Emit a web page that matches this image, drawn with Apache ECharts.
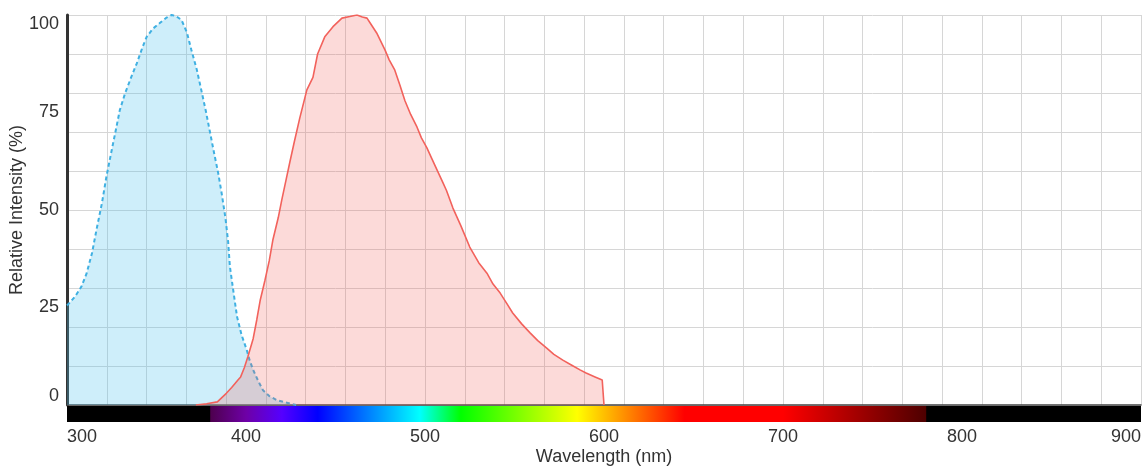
<!DOCTYPE html>
<html>
<head>
<meta charset="utf-8">
<script src="https://cdn.jsdelivr.net/npm/echarts@6/dist/echarts.min.js"></script>
<style>
html,body{margin:0;padding:0;background:#fff;}
#chart{width:1142px;height:466px;}
</style>
</head>
<body>
<div id="chart"></div>
<script>
// Excitation spectrum (blue, dashed)
const exWavelength = [300,302,304.5,308,311,314,316.5,319.5,322,325,327.5,329.5,332.5,336,339,342,344.5,348,352,355.5,358.5,361,364,367,369.5,372.5,375,377.5,380,382,384.5,386.5,388.5,390,391,393,395,397.5,400.5,402,404,407,409.5,413,417,421,424.5,428];
const exIntensity  = [25.5,26.5,27.8,30.3,33.8,39,45,51.7,58.5,65.4,71,75.6,80,84.2,87.6,91.5,94.4,96.5,98,99.3,100,99.7,98.7,95.5,91,86,80.8,75.5,69.7,65,59.4,54,48,42,35.5,29,22.6,18,14,11.5,9,6,3.8,2.3,1.3,0.8,0.4,0];
// Emission spectrum (red, solid)
const emWavelength = [372,378,384,389,392,395.5,397,399,401,404,406,408,410.6,413,415,418,420,422.5,424.6,427,430,434,437.4,440,444,448.6,453.6,458,462,465,467.6,470,473,477.7,480,483,486,488.8,492,495.5,498,501,504,506.7,510,512,515.6,520,525,530,534.6,538,542,546,549,554,558.7,563,568,572,577,582,586.6,590,595,599,600];
const emIntensity  = [0,0.3,0.8,3,4.5,6.4,7.2,9.5,12.3,17,21.8,27,32,37,42.3,48,52.6,58,62.5,67.5,73.5,80.8,84,90,94.4,97,99.2,99.6,100,99.5,99.2,97.5,95.4,91,88.5,86,82,78,74.5,71.3,68.5,66,63,60.3,57,55,50.5,46,40.5,36.5,33.8,31,28.7,25.8,23.6,20.8,18.5,16.5,14.6,13,11.5,10.2,9,8.2,7.2,6.4,0];
// Axis ticks
const xTicks = [300,400,500,600,700,800,900];
const yTicks = [0,25,50,75,100];
// Visible spectrum bar
const spectrumRange = [380,780];
const spectrumWl =    [380,400,420,440,497,520,585,645,700,780];
const spectrumColor = ['#4d004d','#6e00a6','#5500ff','#0000ff','#00ffff','#00ff00','#ffff00','#ff0000','#ff0000','#4d0000'];

const exData = exWavelength.map((w,i)=>[w,exIntensity[i]]);
const emData = emWavelength.map((w,i)=>[w,emIntensity[i]]);
const xMin = xTicks[0], xMax = xTicks[xTicks.length-1];
const gradStops = spectrumWl.map((w,i)=>({offset:(w-spectrumRange[0])/(spectrumRange[1]-spectrumRange[0]), color:spectrumColor[i]}));

const font = 'Liberation Sans, Arial, sans-serif';
const chart = echarts.init(document.getElementById('chart'));
chart.setOption({
  animation:false,
  backgroundColor:'#fff',
  grid:[
    {left:67,right:1,top:15,bottom:61,outerBoundsMode:'none',containLabel:false},
    {left:67,right:1,top:406,height:16,outerBoundsMode:'none',containLabel:false}
  ],
  xAxis:[
    {gridIndex:0,type:'value',position:'bottom',min:xMin,max:xMax,show:false},
    {gridIndex:0,type:'value',position:'bottom',min:0,max:27,interval:1,
      axisLine:{show:true,onZero:false,lineStyle:{color:'#444',width:1.5}},
      axisTick:{show:false},axisLabel:{show:false},
      splitLine:{show:true,lineStyle:{color:'#d6d6d6',width:1}}},
    {gridIndex:1,type:'value',position:'bottom',min:xMin,max:xMax,interval:100,
      axisLine:{show:false},axisTick:{show:false},splitLine:{show:false},
      axisLabel:{show:true,margin:6,fontSize:18,color:'#333',fontFamily:font,
        alignMinLabel:'left',alignMaxLabel:'right'},
      name:'Wavelength (nm)',nameLocation:'middle',nameGap:26,nameMoveOverlap:false,
      nameTextStyle:{fontSize:18,color:'#333',fontFamily:font}}
  ],
  yAxis:[
    {gridIndex:0,type:'value',position:'left',min:0,max:100,interval:10,
      axisLine:{show:false},axisTick:{show:false},axisLabel:{show:false},
      splitLine:{show:true,lineStyle:{color:'#d6d6d6',width:1}}},
    {gridIndex:0,type:'value',position:'left',min:yTicks[0],max:yTicks[yTicks.length-1],interval:25,
      axisLine:{show:true,onZero:false,lineStyle:{color:'#333',width:3}},
      axisTick:{show:false},splitLine:{show:false},
      axisLabel:{show:true,margin:8,fontSize:18,color:'#333',fontFamily:font,
        verticalAlignMinLabel:'bottom',verticalAlignMaxLabel:'top'},
      name:'Relative Intensity (%)',nameLocation:'middle',nameGap:41,nameMoveOverlap:false,
      nameTextStyle:{fontSize:18,color:'#333',fontFamily:font}},
    {gridIndex:1,type:'value',position:'left',min:0,max:1,show:false}
  ],
  series:[
    {type:'line',xAxisIndex:0,yAxisIndex:0,data:exData,symbol:'none',silent:true,z:2,
      lineStyle:{color:'#3fb0e2',width:2,type:[4,3]},
      areaStyle:{color:'rgba(80,195,238,0.4)',origin:'start'}},
    {type:'line',xAxisIndex:0,yAxisIndex:0,data:emData,symbol:'none',silent:true,z:3,
      lineStyle:{color:'#f2625c',width:1.6},
      areaStyle:{color:'rgba(240,95,90,0.33)',origin:'start'}},
    {type:'line',xAxisIndex:2,yAxisIndex:2,data:[[xMin,0]],symbol:'none',silent:true,
      lineStyle:{width:0},
      markArea:{silent:true,data:[
        [{xAxis:xMin,itemStyle:{color:'#000'}},{xAxis:xMax}],
        [{xAxis:spectrumRange[0],itemStyle:{color:{type:'linear',x:0,y:0,x2:1,y2:0,colorStops:gradStops}}},{xAxis:spectrumRange[1]}]
      ]}}
  ]
});
</script>
</body>
</html>
